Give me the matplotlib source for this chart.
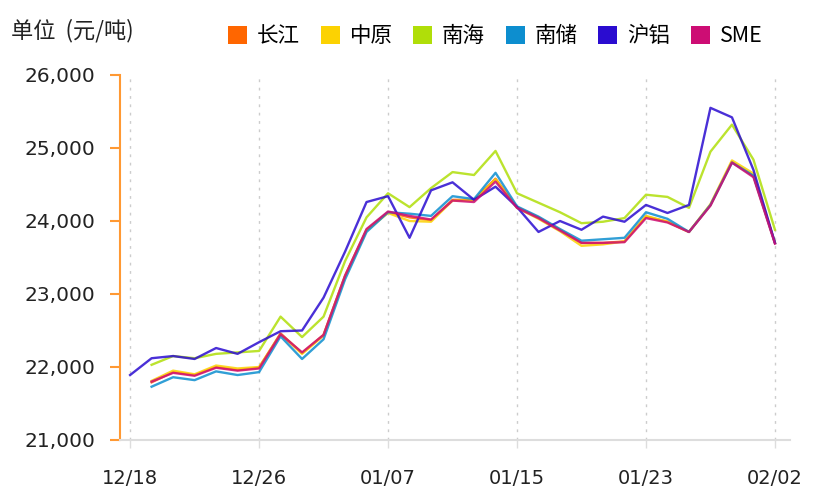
import numpy as np
import matplotlib
matplotlib.use("Agg")
import matplotlib.pyplot as plt
from matplotlib.patches import Patch
from matplotlib.ticker import FuncFormatter

plt.rcParams['font.family'] = ['DejaVu Sans', 'Noto Sans CJK SC']
cjk = ['Noto Sans CJK SC', 'DejaVu Sans']

# tick labels every 6 trading days, 31 trading days in total
tick_labels = ['12/18', '12/26', '01/07', '01/15', '01/23', '02/02']

series_names = ['长江', '中原', '南海', '南储', '沪铝', 'SME']
colors = ['#FF6600', '#FCD202', '#B0DE09', '#0D8ECF', '#2A0CD0', '#CD0D74']

changjiang = [None, 21790, 21930, 21890, 22000, 21960, 21990, 22460, 22190, 22440,
              23250, 23880, 24120, 24050, 24010, 24290, 24290, 24580, 24190, 24050,
              23880, 23700, 23700, 23720, 24060, 23990, 23850, 24220, 24810, 24620, 23700]
zhongyuan = [None, 21810, 21950, 21900, 22020, 21980, 22000, 22450, 22180, 22430,
             23240, 23870, 24110, 24000, 23990, 24280, 24280, 24570, 24180, 24030,
             23860, 23660, 23680, 23720, 24070, 23990, 23850, 24230, 24830, 24650, 23700]
nanhai = [None, 22030, 22150, 22120, 22180, 22200, 22220, 22690, 22410, 22690,
          23450, 24050, 24380, 24190, 24450, 24670, 24630, 24960, 24380, 24250,
          24120, 23970, 23990, 24040, 24360, 24330, 24180, 24950, 25320, 24840, 23880]
nanchu = [None, 21730, 21860, 21820, 21940, 21890, 21930, 22420, 22110, 22380,
          23200, 23850, 24120, 24100, 24070, 24340, 24300, 24660, 24200, 24060,
          23890, 23730, 23750, 23770, 24120, 24030, 23850, 24220, 24800, 24620, 23700]
hulv = [21890, 22120, 22150, 22110, 22260, 22180, 22340, 22490, 22500, 22950,
        23580, 24260, 24340, 23770, 24420, 24530, 24290, 24470, 24190, 23850,
        24000, 23880, 24060, 23990, 24220, 24110, 24220, 25550, 25420, 24700, 23700]
sme = [None, 21800, 21920, 21880, 21990, 21950, 21980, 22450, 22200, 22440,
       23250, 23890, 24130, 24070, 24020, 24280, 24260, 24540, 24180, 24040,
       23870, 23700, 23700, 23710, 24040, 23980, 23850, 24210, 24800, 24600, 23690]

all_series = [changjiang, zhongyuan, nanhai, nanchu, hulv, sme]

fig = plt.figure(figsize=(8.2, 5.04), dpi=100)
ax = fig.add_axes([120 / 820, 64 / 504, 670 / 820, 365 / 504])

x = np.arange(len(hulv))
for vals, name, c in zip(all_series, series_names, colors):
    y = np.array([np.nan if v is None else v for v in vals], dtype=float)
    ax.plot(x, y, color=c, lw=1.7, alpha=0.85, label=name)

ax.set_xlim(-0.47, 30.7)
ax.set_ylim(21000, 26000)
ax.set_yticks(range(21000, 26001, 1000))
ax.yaxis.set_major_formatter(FuncFormatter(lambda v, p: f'{int(v):,}'))
ax.set_xticks(range(0, len(hulv), 6))
ax.set_xticklabels(tick_labels)

# dotted vertical grid only
ax.grid(axis='x', color='#CCCCCC', linestyle=(0, (2, 4)), lw=1)
ax.set_axisbelow(True)

for side in ['top', 'right']:
    ax.spines[side].set_visible(False)
ax.spines['left'].set_color('#FF9933')
ax.spines['left'].set_linewidth(1.5)
ax.spines['bottom'].set_color('#DDDDDD')
ax.spines['bottom'].set_linewidth(1.5)

ax.tick_params(axis='y', colors='#FF9933', length=7.5, width=1.5, pad=10,
               labelcolor='#222222', labelsize=14.5)
ax.tick_params(axis='x', colors='#DDDDDD', length=6, width=1, pad=15,
               labelcolor='#222222', labelsize=14)

fig.text(11 / 820, 1 - 31 / 504, '单位  (元/吨)', fontsize=16, color='#222222',
         va='center', ha='left', family=cjk)

handles = [Patch(facecolor=c, edgecolor='none') for c in colors]
fig.legend(handles, series_names, loc='center left',
           bbox_to_anchor=(228 / 820, 1 - 36 / 504), ncol=6, frameon=False,
           prop={'family': cjk, 'size': 15.5}, handlelength=0.9, handleheight=0.9,
           handletextpad=0.45, columnspacing=0.95, borderaxespad=0, borderpad=0)

fig.savefig('out.png', dpi=100, facecolor='white')
